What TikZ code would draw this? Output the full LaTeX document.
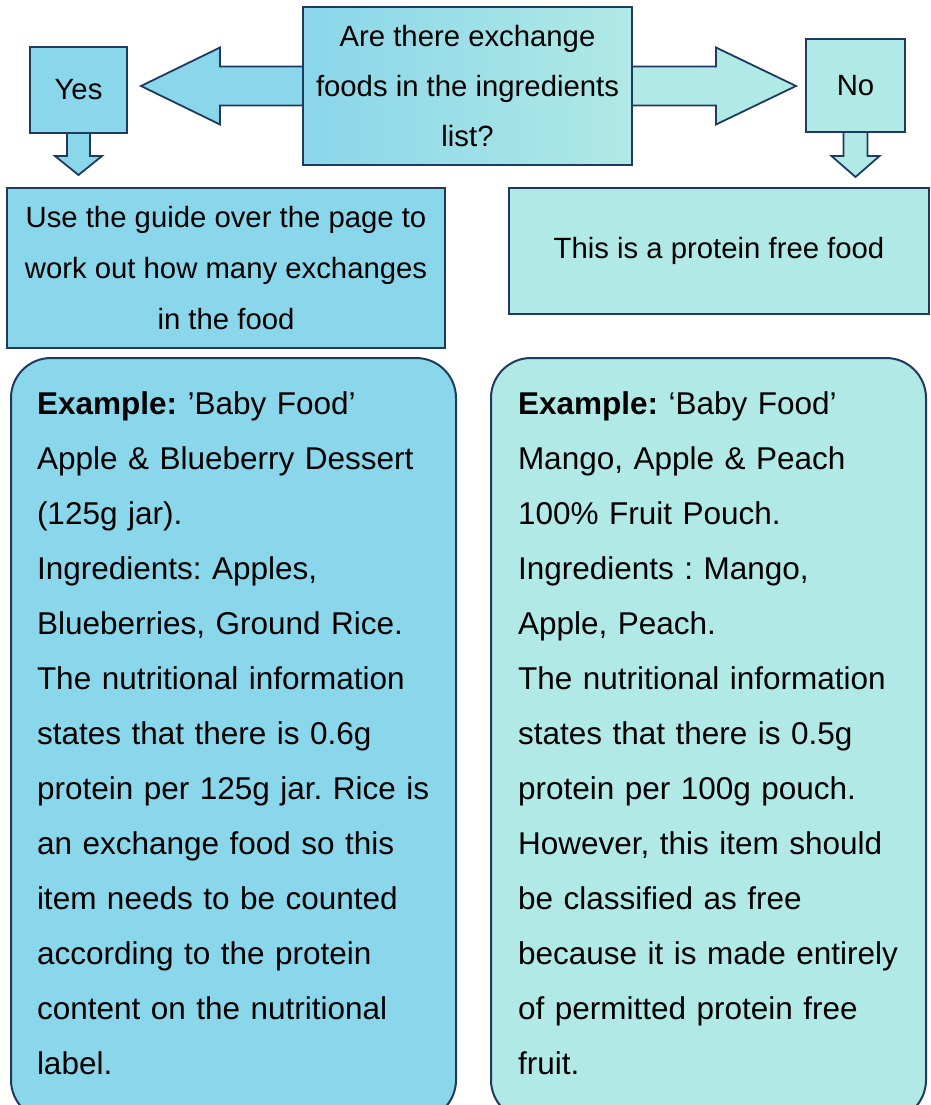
\documentclass[tikz,border=0pt]{standalone}
\usepackage{fontspec}
\setmainfont{Liberation Sans}
\usetikzlibrary{calc,backgrounds}
\definecolor{yesblue}{HTML}{8AD6EA}
\definecolor{noteal}{HTML}{B0E9E5}
\definecolor{boxline}{HTML}{1F3A5F}
\frenchspacing
\hyphenpenalty=10000
\begin{document}
\begin{tikzpicture}[x=1pt, y=-1pt]
    \tikzstyle{flow box} = [rectangle, draw=boxline, line width=2pt, inner sep=0pt, align=center, font=\fontsize{29.3pt}{50pt}\selectfont]
    \tikzstyle{example box} = [rectangle, rounded corners=40pt, draw=boxline, line width=2pt, inner xsep=26pt, inner ysep=32pt, align=left, anchor=north west, font=\fontsize{31.5pt}{55pt}\selectfont]
    \tikzstyle{block arrow} = [draw=boxline, line width=1.8pt, line join=miter]
\useasboundingbox (0,0) rectangle (930,1105);
\clip (0,0) rectangle (930,1105);
\node[flow box, left color=yesblue, right color=noteal, minimum width=329pt, minimum height=158pt] (question) at (467.5,86) {Are there exchange\\foods in the ingredients\\list?};
\node[flow box, fill=yesblue, minimum width=97pt, minimum height=86pt] (yes) at (78.5,90) {Yes};
\node[flow box, fill=noteal, minimum width=99pt, minimum height=93pt] (no) at (855.5,85.5) {No};
\node[flow box, fill=yesblue, minimum width=438pt, minimum height=160pt, font=\fontsize{29.3pt}{51pt}\selectfont] (guide) at (226,268) {Use the guide over the page to\\work out how many exchanges\\in the food};
\node[flow box, fill=noteal, minimum width=420pt, minimum height=126pt] (free) at (719,251) {This is a protein free food};
\node[example box, fill=yesblue, text width=393pt] (yes example) at (10,357) {\rule{0pt}{24pt}\textbf{Example:} ’Baby Food’\\Apple \& Blueberry Dessert\\(125g jar).\\Ingredients: Apples,\\Blueberries, Ground Rice.\\The nutritional information\\states that there is 0.6g\\protein per 125g jar. Rice is\\an exchange food so this\\item needs to be counted\\according to the protein\\content on the nutritional\\label.\rule[-14pt]{0pt}{14pt}};
\node[example box, fill=noteal, text width=381pt, inner xsep=27pt] (no example) at (490,357) {\rule{0pt}{24pt}\textbf{Example:} ‘Baby Food’\\Mango, Apple \& Peach\\100\% Fruit Pouch.\\Ingredients : Mango,\\Apple, Peach.\\The nutritional information\\states that there is 0.5g\\protein per 100g pouch.\\However, this item should\\be classified as free\\because it is made entirely\\of permitted protein free\\fruit.\rule[-14pt]{0pt}{14pt}};
\coordinate (yes tip) at ($(yes.east |- question.west)+(13,0)$);
\coordinate (no tip) at ($(no.west |- question.east)+(-9,0)$);
\coordinate (guide tip) at ($(guide.north -| yes.south)+(0,-12)$);
\coordinate (free tip) at ($(free.north -| no.south)+(0,-10)$);
\begin{scope}[on background layer]
\draw[block arrow, fill=yesblue] ($(question.west)+(0,-19.5)$) -- ($(yes tip)+(79,-19.5)$) -- ($(yes tip)+(79,-38.5)$) -- (yes tip) -- ($(yes tip)+(79,38.5)$) -- ($(yes tip)+(79,19.5)$) -- ($(question.west)+(0,19.5)$);
\draw[block arrow, fill=noteal] ($(question.east)+(0,-19.5)$) -- ($(no tip)+(-80,-19.5)$) -- ($(no tip)+(-80,-38.5)$) -- (no tip) -- ($(no tip)+(-80,38.5)$) -- ($(no tip)+(-80,19.5)$) -- ($(question.east)+(0,19.5)$);
\draw[block arrow, fill=yesblue] ($(yes.south)+(-11.5,0)$) -- ($(guide tip)+(-11.5,-19)$) -- ($(guide tip)+(-23.5,-19)$) -- (guide tip) -- ($(guide tip)+(23.5,-19)$) -- ($(guide tip)+(11.5,-19)$) -- ($(yes.south)+(11.5,0)$);
\draw[block arrow, fill=noteal] ($(no.south)+(-12,0)$) -- ($(free tip)+(-12,-21)$) -- ($(free tip)+(-24,-21)$) -- (free tip) -- ($(free tip)+(24,-21)$) -- ($(free tip)+(12,-21)$) -- ($(no.south)+(12,0)$);
\end{scope}
\end{tikzpicture}
\end{document}
